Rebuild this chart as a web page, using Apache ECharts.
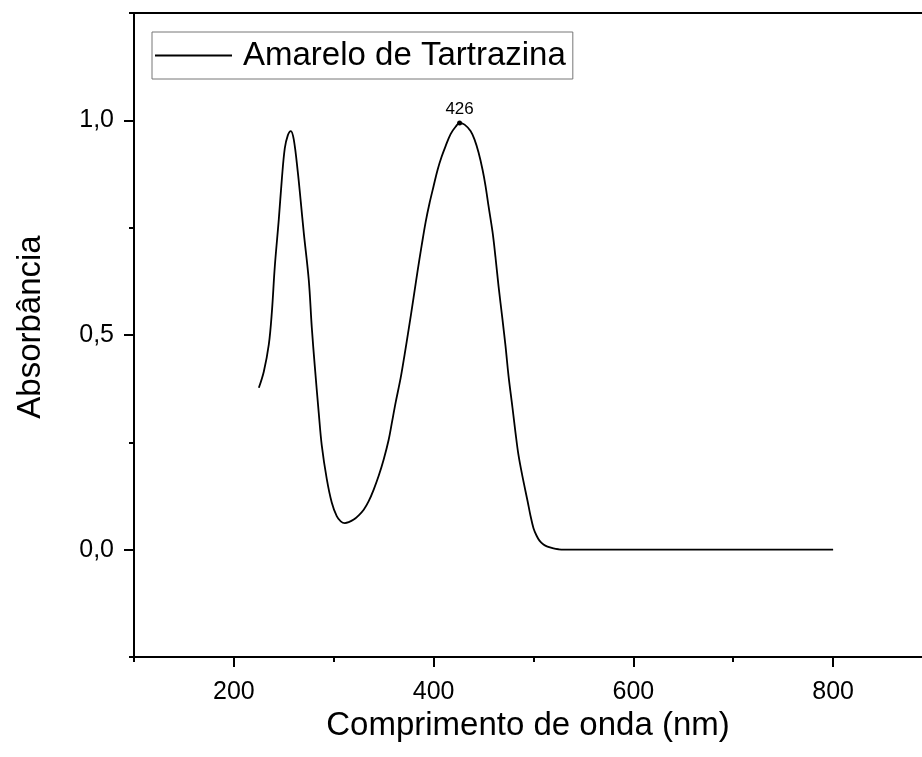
<!DOCTYPE html>
<html>
<head>
<meta charset="utf-8">
<script src="https://cdn.jsdelivr.net/npm/echarts@6/dist/echarts.min.js"></script>
<style>
html,body{margin:0;padding:0;background:#fff;}
#chart{width:922px;height:757px;}
</style>
</head>
<body>
<div id="chart"></div>
<script>
// Wavelength (nm) and absorbance
var wavelength = [225,230,235,238,241,245,248,251,254,257,260,264,267,270,275,278,281,285,288,293,298,303,307,311,315,320,325,330,335,340,345,350,355,358,362,367,371,375,380,384,388,392,396,400,404,408,412,417,422,426,431,437,441,445,449,452,455,459,462,465,469,472,475,479,482,485,489,494,497,500,503,506,510,514,520,525,530,550,600,650,700,750,800];
var absorbance = [0.377,0.415,0.478,0.552,0.660,0.770,0.862,0.935,0.965,0.975,0.955,0.880,0.810,0.738,0.628,0.518,0.428,0.318,0.243,0.165,0.110,0.078,0.066,0.062,0.064,0.070,0.080,0.093,0.113,0.140,0.172,0.210,0.256,0.293,0.343,0.400,0.455,0.513,0.588,0.650,0.708,0.763,0.808,0.847,0.885,0.915,0.940,0.968,0.985,0.994,0.990,0.975,0.955,0.925,0.885,0.847,0.800,0.740,0.680,0.614,0.535,0.474,0.405,0.330,0.272,0.220,0.170,0.114,0.079,0.050,0.033,0.021,0.012,0.007,0.003,0.001,0,0,0,0,0,0,0];
var seriesName = 'Amarelo de Tartrazina';
var peakWavelength = 426;
var peakAbsorbance = 0.994;
var xMajorTicks = [200,400,600,800];
var xMinorTicks = [100,300,500,700];
var yMajorTicks = [0,0.5,1];
var yMinorTicks = [-0.25,0.25,0.75,1.25];

var points = wavelength.map(function(w,i){return [w, absorbance[i]];});
var font = "'Liberation Sans', Arial, sans-serif";
function fmtY(v){ return v.toFixed(1).replace('.', ','); }

var chart = echarts.init(document.getElementById('chart'), null, {renderer:'canvas'});
chart.setOption({
  animation:false,
  backgroundColor:'#fff',
  grid:{left:134, top:13, right:0, bottom:100, show:false, containLabel:false},
  legend:{
    left:152, top:32,
    padding:[7,7,7,3],
    borderColor:'#777', borderWidth:1,
    itemWidth:77, itemHeight:2, icon:'rect',
    itemStyle:{color:'#000'},
    textStyle:{fontFamily:font, fontSize:33, color:'#000', padding:[0,0,0,6]},
    data:[{name:seriesName, icon:'rect'}]
  },
  xAxis:[{
    type:'value', min:100, max:889, interval:100, position:'bottom',
    axisLine:{show:true, onZero:false, lineStyle:{color:'#000', width:2}},
    axisTick:{show:true, inside:false, length:10, customValues:xMajorTicks, lineStyle:{color:'#000', width:2}},
    minorTick:{show:false},
    axisLabel:{customValues:xMajorTicks, fontFamily:font, fontSize:25, color:'#000', margin:23,
      formatter:function(v){ return xMajorTicks.indexOf(v) >= 0 ? String(v) : ''; }},
    splitLine:{show:false},
    name:'Comprimento de onda (nm)', nameLocation:'middle', nameGap:42,
    nameTextStyle:{fontFamily:font, fontSize:33, color:'#000'}
  },{
    type:'value', min:100, max:889, interval:100, position:'bottom', gridIndex:0,
    axisLine:{show:false, onZero:false},
    axisTick:{show:true, inside:false, length:5, customValues:xMinorTicks, lineStyle:{color:'#000', width:2}},
    axisLabel:{show:false}, splitLine:{show:false}
  },{
    type:'value', min:100, max:889, position:'top', gridIndex:0,
    axisLine:{show:true, onZero:false, lineStyle:{color:'#000', width:2}},
    axisTick:{show:false}, axisLabel:{show:false}, splitLine:{show:false}
  }],
  yAxis:[{
    type:'value', min:-0.25, max:1.25, interval:0.25, position:'left',
    axisLine:{show:true, onZero:false, lineStyle:{color:'#000', width:2}},
    axisTick:{show:true, inside:false, length:10, customValues:yMajorTicks, lineStyle:{color:'#000', width:2}},
    axisLabel:{customValues:yMajorTicks, fontFamily:font, fontSize:25, color:'#000', margin:20,
      formatter:function(v){ return yMajorTicks.indexOf(Math.round(v*100)/100) >= 0 ? fmtY(v) : ''; }},
    splitLine:{show:false},
    name:'Absorbância', nameLocation:'middle', nameGap:87, nameRotate:90,
    nameTextStyle:{fontFamily:font, fontSize:33, color:'#000', padding:[0,0,0,16]}
  },{
    type:'value', min:-0.25, max:1.25, interval:0.25, position:'left',
    axisLine:{show:false, onZero:false},
    axisTick:{show:true, inside:false, length:5, customValues:yMinorTicks, lineStyle:{color:'#000', width:2}},
    axisLabel:{show:false}, splitLine:{show:false}
  }],
  series:[{
    name:seriesName, type:'line', data:points, xAxisIndex:0, yAxisIndex:0,
    symbol:'none', smooth:0.35,
    lineStyle:{color:'#000', width:1.8}, itemStyle:{color:'#000'},
    markPoint:{
      symbol:'circle', symbolSize:5, itemStyle:{color:'#000'},
      label:{show:true, position:'top', distance:3, fontFamily:font, fontSize:17, color:'#000',
        formatter:function(){ return String(peakWavelength); }},
      data:[{coord:[peakWavelength, peakAbsorbance]}]
    }
  }]
});
</script>
</body>
</html>
